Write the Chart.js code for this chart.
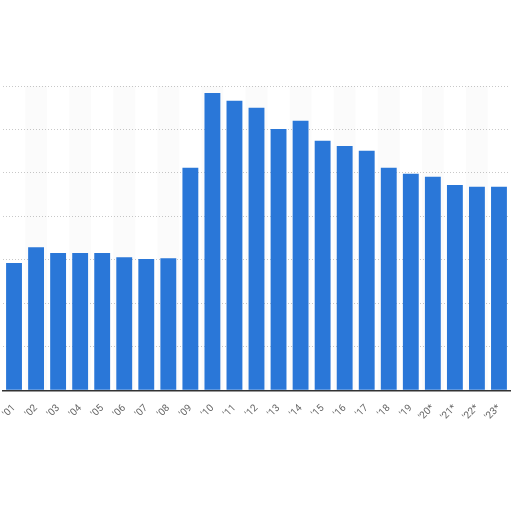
<!DOCTYPE html>
<html>
<head>
<meta charset="utf-8">
<script src="https://cdn.jsdelivr.net/npm/chart.js@4/dist/chart.umd.min.js"></script>
<style>
  html, body { margin: 0; padding: 0; background: #fff; }
  #wrap { width: 512px; height: 512px; }
</style>
</head>
<body>
<div id="wrap"><canvas id="myChart"></canvas></div>
<script>
// years shown on the x axis (* = forecast)
let years = ["'01", "'02", "'03", "'04", "'05", "'06", "'07", "'08", "'09", "'10", "'11", "'12",
             "'13", "'14", "'15", "'16", "'17", "'18", "'19", "'20*", "'21*", "'22*", "'23*"];

// bar heights
let values = [29.3, 32.9, 31.6, 31.6, 31.6, 30.6, 30.2, 30.4, 51.2, 68.4, 66.6, 65.0,
              60.1, 62.0, 57.4, 56.2, 55.1, 51.2, 49.8, 49.1, 47.2, 46.8, 46.8];

// y range and grid spacing
let yMax = 70;
let yStep = 10;

// faint alternating column bands behind the bars
let stripes = {
    id: 'stripes',
    beforeDatasetsDraw(chart) {
        let c = chart.ctx;
        let x = chart.scales.x;
        let area = chart.chartArea;
        c.save();
        c.fillStyle = 'rgba(0,0,0,0.015)';
        for (let i = 1; i < years.length; i += 2) {
            let left = (x.getPixelForValue(i - 1) + x.getPixelForValue(i)) / 2;
            let right = (x.getPixelForValue(i) + x.getPixelForValue(i + 1)) / 2;
            c.fillRect(left, area.top, right - left, area.bottom - area.top);
        }
        c.restore();
    }
};

let ctx = document.getElementById('myChart').getContext('2d');

let chart = new Chart(ctx, {
    type: 'bar',
    data: {
        labels: years,
        datasets: [{
            data: values,
            backgroundColor: '#2a77d8',
            borderWidth: 0,
            barPercentage: 0.72,
            categoryPercentage: 1.0
        }]
    },
    options: {
        responsive: true,
        maintainAspectRatio: false,
        animation: false,
        layout: { padding: { left: 3, right: 2, top: 86, bottom: 85 } },
        plugins: {
            legend: { display: false },
            tooltip: { enabled: false }
        },
        scales: {
            x: {
                grid: { display: false },
                border: { display: true, color: '#333', width: 1.5 },
                ticks: {
                    color: '#666',
                    font: { family: 'Roboto', size: 10 },
                    minRotation: 45,
                    maxRotation: 45,
                    autoSkip: false,
                    padding: 4
                }
            },
            y: {
                min: 0,
                max: yMax,
                ticks: { display: false, stepSize: yStep },
                border: { display: false, dash: [1, 2] },
                grid: { color: '#c8c8c8', lineWidth: 1, drawTicks: false }
            }
        }
    },
    plugins: [stripes]
});
</script>
</body>
</html>
